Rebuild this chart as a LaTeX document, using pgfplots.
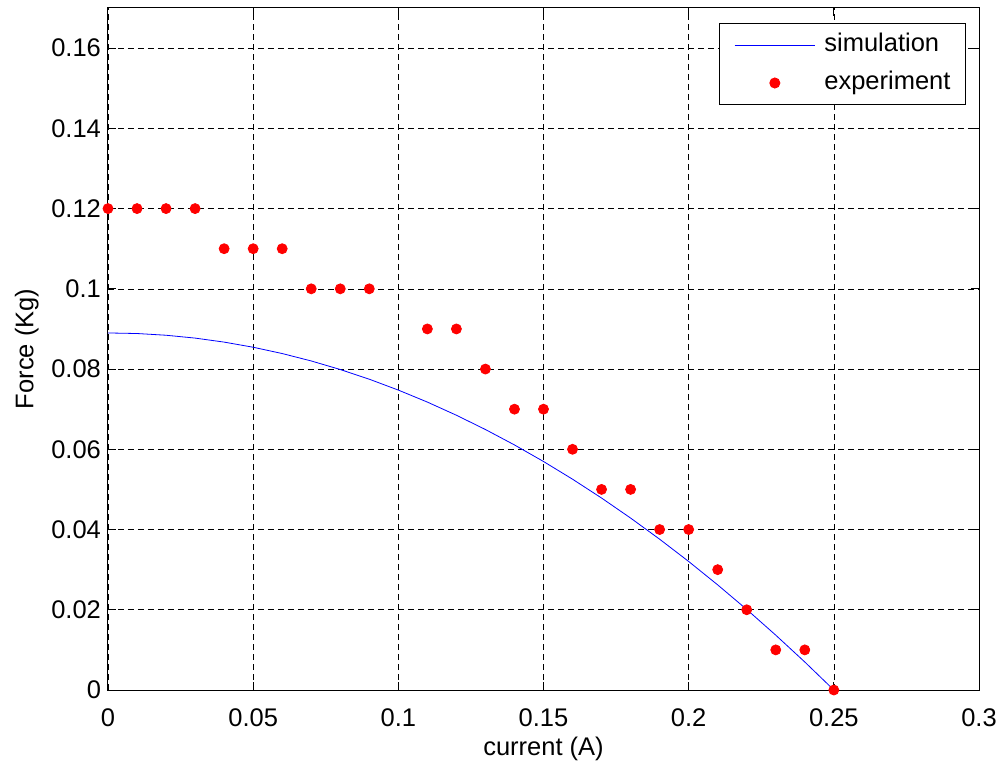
\documentclass[border=0pt]{standalone}
\usepackage{pgfplots}
\pgfplotsset{compat=1.18}
\usepackage{fontspec}
\setmainfont{Liberation Sans}

\begin{document}
\begin{tikzpicture}[font=\fontsize{12.75}{15}\selectfont]
\begin{axis}[
    name=ax,
    scale only axis,
    width=435.5pt, height=341pt,
    xmin=0, xmax=0.3,
    ymin=0, ymax=0.17,
    xtick={0,0.05,...,0.3},
    ytick={0,0.02,...,0.16},
    /pgf/number format/assume math mode=true,
    /pgf/number format/fixed,
    /pgf/number format/precision=2,
    scaled ticks=false,
    xticklabel style={yshift=-6pt},
    grid=major,
    major grid style={black, dash pattern=on 3pt off 2pt, line width=0.3pt},
    axis line style={line width=0.5pt},
    tick style={black, line width=0.5pt},
    major tick length=4pt,
    tick align=inside,
    xtick pos=both, ytick pos=both,
    xlabel={current (A)},
    ylabel={Force (Kg)},
    xlabel style={yshift=2pt},
    ylabel style={yshift=-0.5pt},
    legend cell align=left,
    legend style={
        at={(rel axis cs:1,1)}, anchor=north east,
        xshift=-6.5pt, yshift=-7.5pt,
        draw=black, line width=0.5pt, fill=white,
        inner xsep=7.5pt, inner ysep=4.5pt, row sep=6.5pt,
        column sep=4.5pt,
        nodes={inner sep=0pt, text height=9.5pt, text depth=3pt},
    },
    legend image code/.code={
        \draw[#1] (0cm,0cm) -- (1.41cm,0cm);
    },
]

\addplot[blue, line width=0.4pt, mark=none] coordinates {
    (0,0.0890) (0.01,0.08886) (0.02,0.08843) (0.03,0.08772) (0.04,0.08672)
    (0.05,0.08544) (0.06,0.08387) (0.07,0.08202) (0.08,0.07989) (0.09,0.07747)
    (0.10,0.07476) (0.11,0.07177) (0.12,0.06849) (0.13,0.06493) (0.14,0.06109)
    (0.15,0.05696) (0.16,0.05255) (0.17,0.04785) (0.18,0.04286) (0.19,0.03759)
    (0.20,0.03204) (0.21,0.02620) (0.22,0.02008) (0.23,0.01367) (0.24,0.00698)
    (0.25,0)
};
\addlegendentry{simulation}

\addplot[only marks, mark=*, mark size=2.5pt, red, mark options={fill=red, draw=red},
    legend image code/.code={\fill[red] (0.705cm,0cm) circle (2.5pt);}] coordinates {
    (0,0.12) (0.01,0.12) (0.02,0.12) (0.03,0.12)
    (0.04,0.11) (0.05,0.11) (0.06,0.11)
    (0.07,0.10) (0.08,0.10) (0.09,0.10)
    (0.11,0.09) (0.12,0.09) (0.13,0.08)
    (0.14,0.07) (0.15,0.07) (0.16,0.06)
    (0.17,0.05) (0.18,0.05) (0.19,0.04) (0.20,0.04)
    (0.21,0.03) (0.22,0.02) (0.23,0.01) (0.24,0.01) (0.25,0)
};
\addlegendentry{experiment}

\end{axis}
\pgfresetboundingbox
\path ([xshift=-54pt,yshift=-38.5pt]ax.south west) rectangle ([xshift=11pt,yshift=4pt]ax.north east);
\end{tikzpicture}
\end{document}
